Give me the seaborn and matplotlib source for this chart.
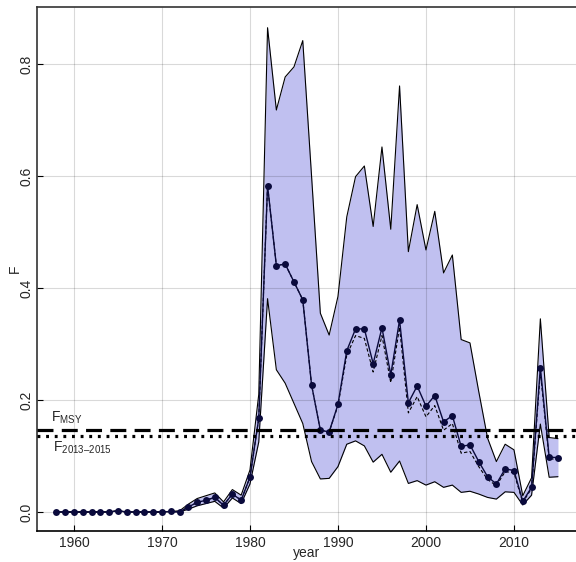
import matplotlib
matplotlib.use("Agg")
import matplotlib.pyplot as plt
import seaborn as sns
import numpy as np
import pandas as pd

years = list(range(1958, 2016))

# fishing mortality estimate (points)
f_est = [0, 0, 0, 0, 0, 0, 0, 0.002, 0, 0, 0, 0, 0, 0.001, 0,
         0.009, 0.017, 0.021, 0.026, 0.012, 0.032, 0.021, 0.062, 0.167,
         0.583, 0.44, 0.443, 0.411, 0.379, 0.227, 0.146, 0.143, 0.192,
         0.288, 0.327, 0.327, 0.265, 0.329, 0.245, 0.343, 0.195, 0.225,
         0.189, 0.208, 0.161, 0.172, 0.117, 0.120, 0.090, 0.063, 0.050,
         0.077, 0.074, 0.019, 0.044, 0.258, 0.098, 0.097]

# median (dashed)
f_med = [0, 0, 0, 0, 0, 0, 0, 0.002, 0, 0, 0, 0, 0, 0.001, 0,
         0.009, 0.017, 0.021, 0.026, 0.012, 0.032, 0.021, 0.062, 0.167,
         0.583, 0.44, 0.443, 0.411, 0.379, 0.227, 0.146, 0.143, 0.19,
         0.28, 0.315, 0.31, 0.25, 0.315, 0.231, 0.33, 0.177, 0.206,
         0.17, 0.19, 0.146, 0.158, 0.105, 0.108, 0.081, 0.058, 0.047,
         0.072, 0.070, 0.017, 0.042, 0.25, 0.095, 0.094]

f_upper = [0, 0, 0, 0, 0, 0, 0, 0.002, 0, 0, 0, 0, 0, 0.001, 0.002,
           0.014, 0.024, 0.029, 0.034, 0.018, 0.040, 0.030, 0.075, 0.21,
           0.865, 0.718, 0.777, 0.795, 0.842, 0.60, 0.355, 0.316, 0.385,
           0.527, 0.599, 0.618, 0.51, 0.652, 0.505, 0.761, 0.465, 0.549,
           0.468, 0.537, 0.427, 0.459, 0.308, 0.302, 0.215, 0.132, 0.09,
           0.121, 0.111, 0.029, 0.061, 0.345, 0.133, 0.131]

f_lower = [0, 0, 0, 0, 0, 0, 0, 0.002, 0, 0, 0, 0, 0, 0.001, 0,
           0.005, 0.011, 0.015, 0.019, 0.007, 0.025, 0.015, 0.05, 0.125,
           0.381, 0.254, 0.23, 0.194, 0.158, 0.09, 0.059, 0.060, 0.081,
           0.121, 0.127, 0.118, 0.089, 0.103, 0.071, 0.091, 0.051, 0.056,
           0.048, 0.054, 0.044, 0.048, 0.035, 0.037, 0.032, 0.026, 0.023,
           0.036, 0.035, 0.0125, 0.03, 0.157, 0.062, 0.063]

f_msy = 0.146
f_recent = 0.136

x_ticks = [1960, 1970, 1980, 1990, 2000, 2010]
y_ticks = [0.0, 0.2, 0.4, 0.6, 0.8]

df = pd.DataFrame({'year': years, 'F': f_est, 'med': f_med,
                   'lo': f_lower, 'hi': f_upper})

sns.set_theme(style="ticks")
plt.rcParams['font.family'] = ['Liberation Sans', 'DejaVu Sans']
plt.rcParams['mathtext.fontset'] = 'custom'
plt.rcParams['mathtext.rm'] = 'Liberation Sans'
plt.rcParams['mathtext.it'] = 'Liberation Sans'

fig = plt.figure(figsize=(5.76, 5.62), dpi=100)
ax = fig.add_axes([37 / 576, 31 / 562, 539 / 576, 524 / 562])

# confidence band
ax.fill_between(df['year'], df['lo'], df['hi'], color='#c0c0f0', zorder=1,
                linewidth=0)
sns.lineplot(data=df, x='year', y='hi', color='black', lw=0.8, ax=ax, zorder=2)
sns.lineplot(data=df, x='year', y='lo', color='black', lw=0.8, ax=ax, zorder=2)
sns.lineplot(data=df, x='year', y='med', color='black', lw=0.8, ax=ax,
             linestyle=(0, (3, 2)), zorder=3)
sns.lineplot(data=df, x='year', y='F', color='#0a0a3c', lw=1.0, ax=ax,
             marker='o', markersize=5, markeredgewidth=0, zorder=4)

ax.axhline(f_msy, color='black', lw=2.3, linestyle=(0, (5, 2.6)), zorder=5)
ax.axhline(f_recent, color='black', lw=2.3, linestyle=(0, (0.9, 1.8)), zorder=5)
ax.text(1957.4, 0.153, 'F$_{\\mathrm{MSY}}$', fontsize=10, ha='left', va='bottom')
ax.text(1957.6, 0.129, 'F$_{\\mathrm{2013–2015}}$', fontsize=10,
        ha='left', va='top')

ax.set_xlim(1955.8, 2017.05)
ax.set_ylim(-0.034, 0.902)
ax.set_xticks(x_ticks)
ax.set_yticks(y_ticks)
ax.set_yticklabels(['0.0', '0.2', '0.4', '0.6', '0.8'], rotation=90, va='center')
ax.tick_params(direction='in', length=4.5, width=0.8, color='black',
               labelsize=10, pad=3.5)
ax.tick_params(axis='y', pad=2.5)
ax.grid(True, color='black', alpha=0.15, lw=0.8)
ax.set_axisbelow('line')

ax.set_xlabel('year', fontsize=10, labelpad=-2.5)
ax.set_ylabel('F', fontsize=10, labelpad=-1.5)

for s in ['top', 'left']:
    ax.spines[s].set_color('#333333')
    ax.spines[s].set_linewidth(1.2)
ax.spines['bottom'].set_color('black')
ax.spines['bottom'].set_linewidth(1.2)
ax.spines['right'].set_visible(False)

fig.savefig('out.png', dpi=100)
